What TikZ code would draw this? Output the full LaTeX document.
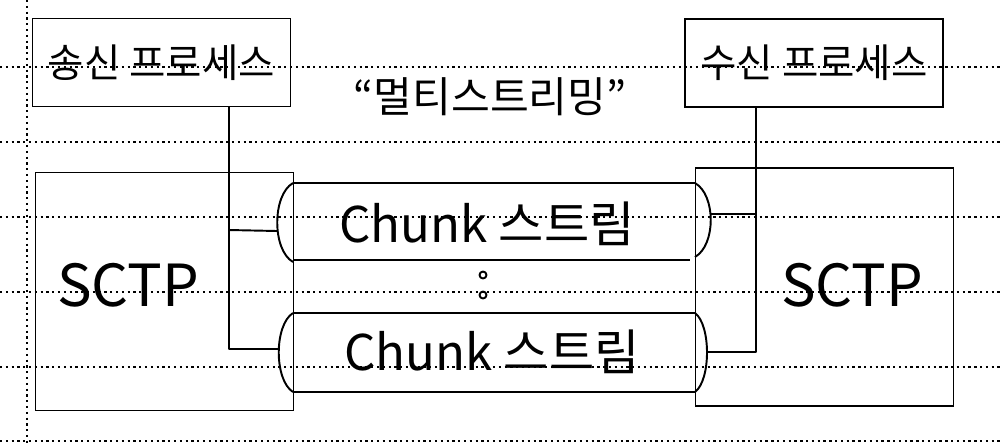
\documentclass[tikz,border=0pt]{standalone}
\usepackage{fontspec}
\setmainfont{Noto Sans CJK KR}
\usetikzlibrary{calc}

\tikzset{
  rule/.style={dotted, line width=1.3pt},
  wire/.style={line width=1.1pt, line join=round},
  proc/.style={draw, line width=1.1pt, minimum width=51.6mm, minimum height=17.6mm, font=\fontsize{22.5}{26}\selectfont},
  stack/.style={draw, line width=1.1pt, minimum width=51.6mm, minimum height=47.6mm},
  big/.style={font=\fontsize{33}{40}\selectfont},
  chunk/.style={font=\fontsize{28}{32}\selectfont}
}

\begin{document}
\begin{tikzpicture}[x=0.2mm, y=-0.2mm]
  \useasboundingbox (0,0) rectangle (1000,443);

  % Notebook lines
  \foreach \y in {67,142,217,292,367,441}
    \draw[rule] (0,\y) -- (1000,\y);
  \draw[rule] (27,0) -- (27,443);

  % Processes
  \node[proc] (send) at (161.5,62.5) {송신 프로세스};
  \node[proc] (recv) at (814,63) {수신 프로세스};
  \node[font=\fontsize{24}{28}\selectfont] (title) at (490,97) {“멀티스트리밍”};

  % SCTP ends
  \node[stack] (sctpL) at (164.5,291.5) {};
  \node[stack] (sctpR) at (824.5,287) {};
  \node[big] (sctpLtxt) at (128,285) {SCTP};
  \node[big] (sctpRtxt) at (852,285) {SCTP};

  % Stream 1 (top)
  \draw[wire] (293,183) -- (695,183);
  \draw[wire] (293,260) -- (690,260);
  \draw[wire] (293,183) .. controls (272,195) and (272,250) .. (293,262);
  \draw[wire] (695,183) .. controls (716,195) and (716,245) .. (695,257);
  \node[chunk] (chunkA) at (487,224) {Chunk 스트림};

  % Stream 2 (bottom)
  \draw[wire] (293,313) -- (695,313);
  \draw[wire] (293,392) -- (695,392);
  \draw[wire] (293,313) .. controls (274,325) and (274,380) .. (293,392);
  \draw[wire] (695,313) .. controls (711,325) and (711,380) .. (695,392);
  \node[chunk] (chunkB) at (492,352) {Chunk 스트림};

  % dots between streams
  \draw[wire] (483,275) circle (3.5);
  \draw[wire] (483,295) circle (3.5);

  % Wiring
  \coordinate (jA) at (229,230);
  \coordinate (jB) at (229,349);
  \coordinate (inA) at (277,231);
  \coordinate (inB) at (279,349);
  \coordinate (jC) at (756,214);
  \coordinate (jD) at (756,352);
  \coordinate (outA) at (710,214);
  \coordinate (outD) at (707,352);
  \draw[wire] (send.south -| jB) -- (jB) -- (inB);
  \draw[wire] (jA) -- (inA);
  \draw[wire] (recv.south -| jD) -- (jD) -- (outD);
  \draw[wire] (jC) -- (outA);
\end{tikzpicture}
\end{document}
